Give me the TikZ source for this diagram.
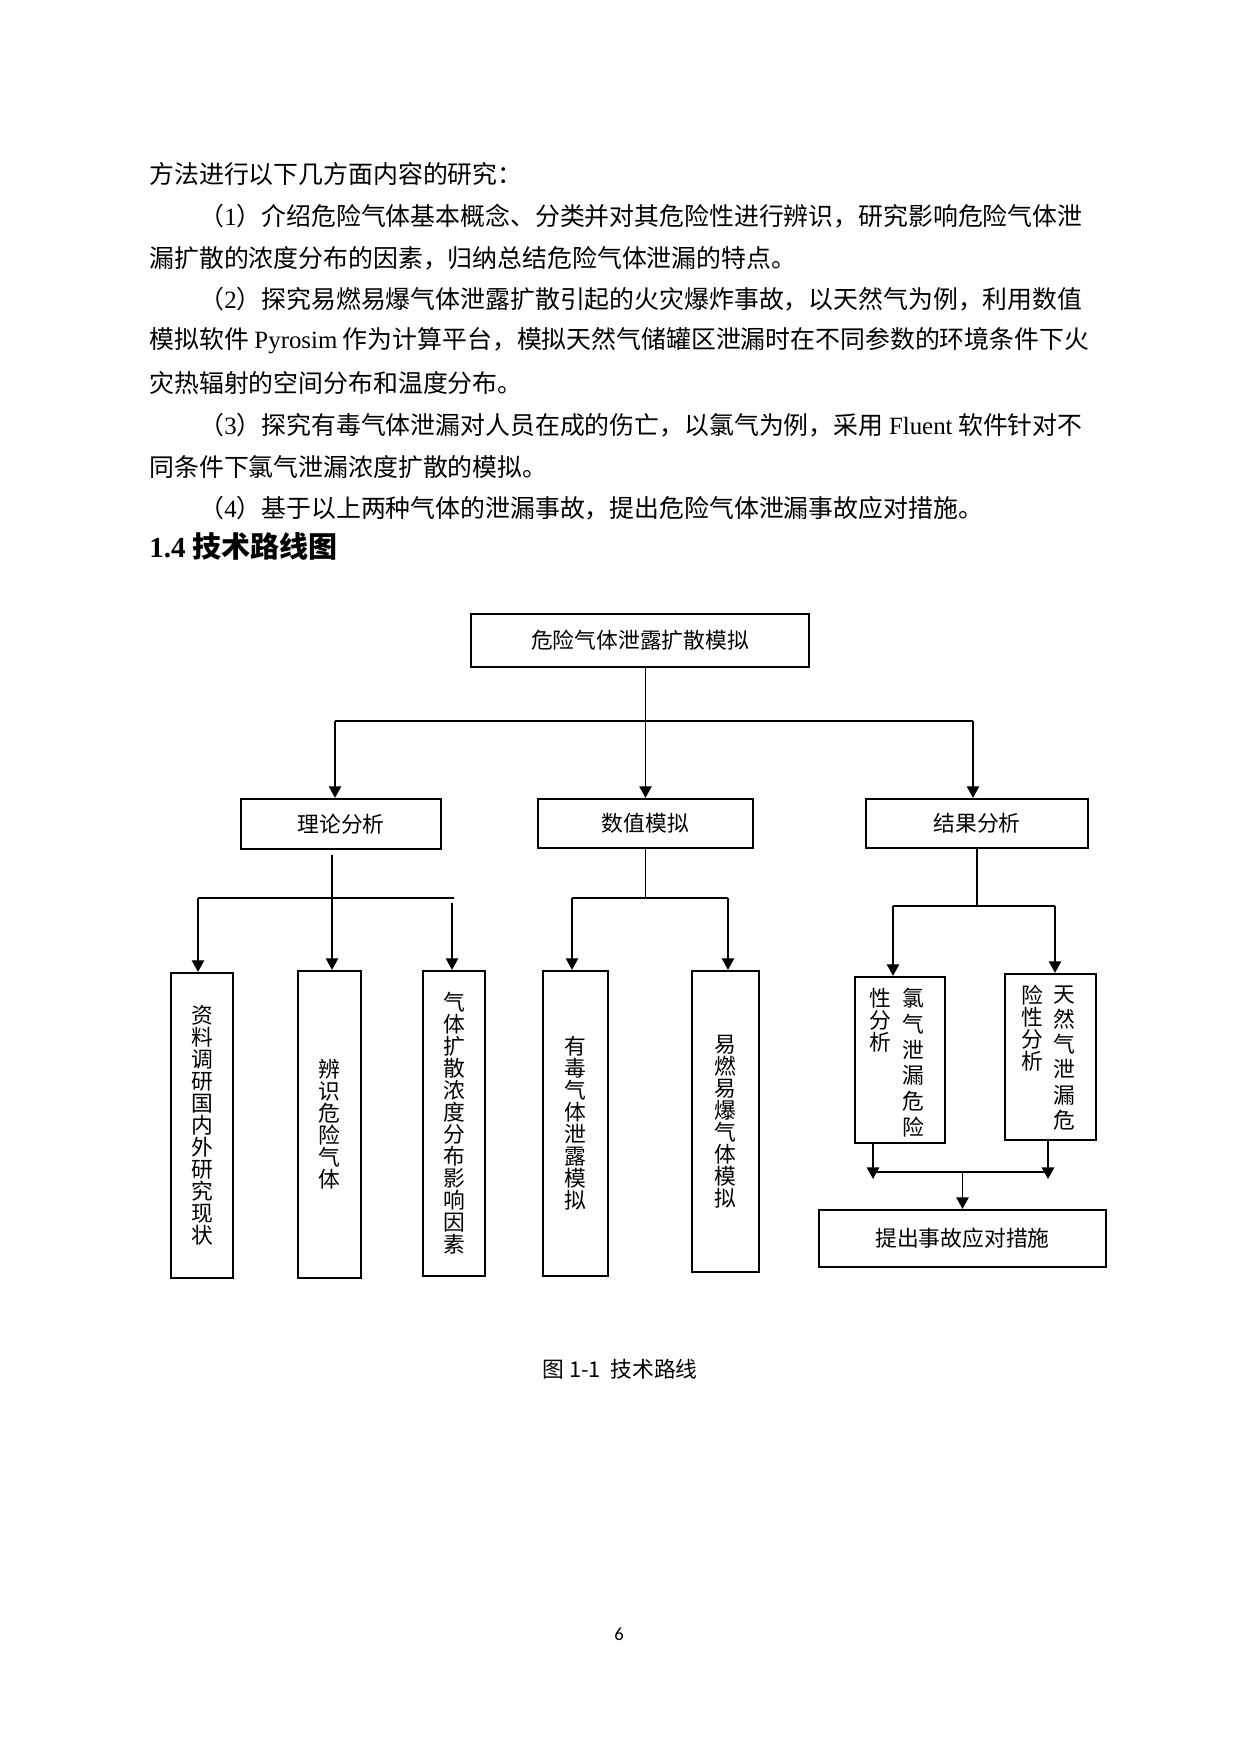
\documentclass[tikz,border=0pt]{standalone}
\usepackage{fontspec}
\usetikzlibrary{arrows.meta}
\newfontfamily\cjk{Noto Sans CJK SC}
\newfontfamily\lat{Liberation Serif}
\newfontfamily\pnum{Carlito}
\newdimen\px \px=0.48242pt
\begin{document}
\begin{tikzpicture}[x=0.48242pt,y=-0.48242pt,
    every node/.style={inner sep=0pt},
    body/.style={anchor=west,font=\cjk\fontsize{12}{14}\selectfont},
    box/.style={draw,line width=1.1pt,align=center,font=\cjk\fontsize{10.5}{10.6}\selectfont},
    bsize/.style 2 args={minimum width=#1*\px,minimum height=#2*\px},
    col/.style={anchor=north,align=center,font=\cjk\fontsize{10.5}{#1}\selectfont},
    link/.style={line width=0.7pt},
    arr/.style={line width=0.7pt,-{Triangle[length=5.6pt,width=6pt]}}]
    \path[use as bounding box,fill=white] (0,0) rectangle (1234,1748);
    % page text
    \node[body] (p1) at (149,174) {方法进行以下几方面内容的研究：};
    \node[body] (p2) at (199,216) {（{\lat 1}）介绍危险气体基本概念、分类并对其危险性进行辨识，研究影响危险气体泄};
    \node[body] (p3) at (149,258) {漏扩散的浓度分布的因素，归纳总结危险气体泄漏的特点。};
    \node[body] (p4) at (199,299) {（{\lat 2}）探究易燃易爆气体泄露扩散引起的火灾爆炸事故，以天然气为例，利用数值};
    \node[body] (p5) at (149,341) {模拟软件 {\lat Pyrosim} 作为计算平台，模拟天然气储罐区泄漏时在不同参数的环境条件下火};
    \node[body] (p6) at (149,383) {灾热辐射的空间分布和温度分布。};
    \node[body] (p7) at (199,425) {（{\lat 3}）探究有毒气体泄漏对人员在成的伤亡，以氯气为例，采用 {\lat Fluent} 软件针对不};
    \node[body] (p8) at (149,467) {同条件下氯气泄漏浓度扩散的模拟。};
    \node[body] (p9) at (199,508) {（{\lat 4}）基于以上两种气体的泄漏事故，提出危险气体泄漏事故应对措施。};
    \node[anchor=west,font=\cjk\bfseries\fontsize{14}{16}\selectfont] (hd) at (149,546) {{\lat\bfseries 1.4} 技术路线图};
    % boxes
    \node[box,bsize={338}{53}] (top) at (640,640.5) {危险气体泄露扩散模拟};
    \node[box,bsize={200}{50}] (lun) at (341,824) {理论分析};
    \node[box,bsize={215}{49}] (num) at (645.5,823.5) {数值模拟};
    \node[box,bsize={222}{49}] (jie) at (977,823.5) {结果分析};
    \node[box,bsize={62}{305}] (zl) at (202,1125.5) {资\\料\\调\\研\\国\\内\\外\\研\\究\\现\\状};
    \node[box,bsize={63}{307}] (bs) at (329.5,1124.5) {辨\\识\\危\\险\\气\\体};
    \node[box,bsize={62}{305}] (ks) at (454,1123.5) {气\\体\\扩\\散\\浓\\度\\分\\布\\影\\响\\因\\素};
    \node[box,bsize={65}{305}] (yd) at (575.5,1123.5) {有\\毒\\气\\体\\泄\\露\\模\\拟};
    \node[box,bsize={67}{301}] (yr) at (725.5,1121.5) {易\\燃\\易\\爆\\气\\体\\模\\拟};
    \node[box,bsize={90}{166}] (lq) at (900,1060) {};
    \node[box,bsize={91}{166}] (tr) at (1050.5,1057) {};
    \node[box,bsize={287}{57}] (ts) at (962.5,1238.5) {提出事故应对措施};
    \node[col=12.4] (lq1) at (913,988) {氯\\气\\泄\\漏\\危\\险};
    \node[col=10.6] (lq2) at (880,988) {性\\分\\析};
    \node[col=12.2] (tr1) at (1064,985) {天\\然\\气\\泄\\漏\\危};
    \node[col=10.6] (tr2) at (1032,985) {险\\性\\分\\析};
    % first level
    \coordinate (b1l) at (335,721);
    \coordinate (b1r) at (973,721);
    \draw[link] (b1l) -- (b1r);
    \draw[arr] (num.north |- top.south) -- (num.north);
    \draw[arr] (b1l) -- (b1l |- lun.north);
    \draw[arr] (b1r) -- (b1r |- jie.north);
    % under lun
    \coordinate (b2l) at (198,898);
    \coordinate (b2r) at (454,898);
    \coordinate (b2m) at (332,855);
    \coordinate (b2g) at (452,903);
    \draw[link] (b2l) -- (b2r);
    \draw[arr] (b2m) -- (b2m |- bs.north);
    \draw[arr] (b2l) -- (b2l |- zl.north);
    \draw[arr] (b2g) -- (b2g |- ks.north);
    % under num
    \coordinate (b3l) at (572,898);
    \coordinate (b3r) at (728,898);
    \draw[link] (num.south) -- (num.south |- b3l);
    \draw[link] (b3l) -- (b3r);
    \draw[arr] (b3l) -- (b3l |- yd.north);
    \draw[arr] (b3r) -- (b3r |- yr.north);
    % under jie
    \coordinate (b4l) at (893,906);
    \coordinate (b4r) at (1055,906);
    \draw[link] (jie.south) -- (jie.south |- b4l);
    \draw[link] (b4l) -- (b4r);
    \draw[arr] (b4l) -- (b4l |- lq.north);
    \draw[arr] (b4r) -- (b4r |- tr.north);
    % to ts
    \coordinate (b5l) at (873,1172);
    \coordinate (b5r) at (1048,1172);
    \coordinate (e5l) at (873,1179);
    \coordinate (e5r) at (1048,1179);
    \draw[arr] (e5l |- lq.south) -- (e5l);
    \draw[arr] (e5r |- tr.south) -- (e5r);
    \draw[link] (b5l) -- (b5r);
    \draw[arr] (b5l -| ts.north) -- (ts.north);
    % caption
    \node[font=\cjk\fontsize{10.5}{12}\selectfont] (cap) at (620,1369) {图 1-1\ \ 技术路线};
    \node[font=\pnum\fontsize{9}{10}\selectfont] (pg) at (619,1634) {6};
\end{tikzpicture}
\end{document}
